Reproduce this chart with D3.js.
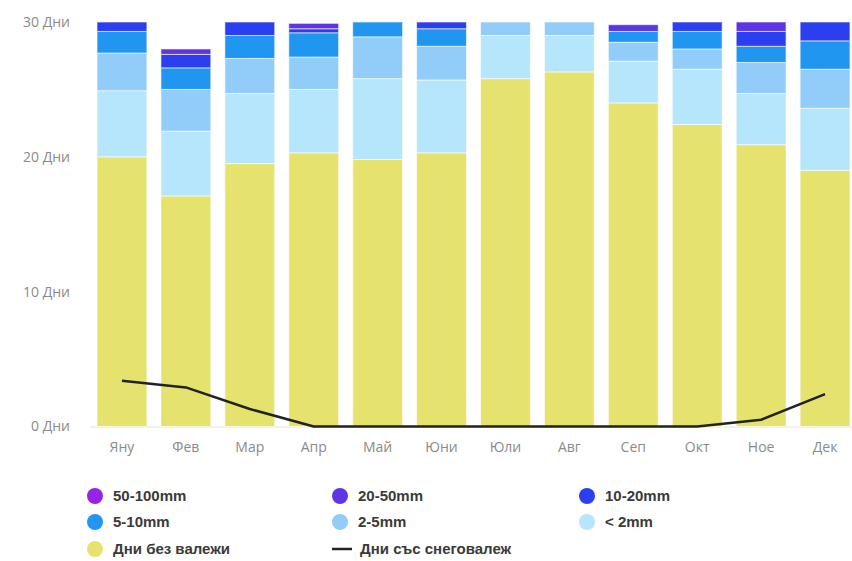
<!DOCTYPE html>
<html>
<head>
<meta charset="utf-8">
<script src="https://cdn.jsdelivr.net/npm/d3@7"></script>
<style>
  body { margin: 0; background: #fff; }
  svg { display: block; }
  .tick text { fill: #8a8a8a; font-family: "Open Sans", "Liberation Sans", sans-serif; font-size: 14px; }
  .legend text { fill: #3a3a3a; font-family: "Liberation Sans", Arial, sans-serif; font-size: 15px; font-weight: bold; }
</style>
</head>
<body>
<svg width="852" height="561"></svg>
<script>
// month labels
const months = ["Яну", "Фев", "Мар", "Апр", "Май", "Юни", "Юли", "Авг", "Сеп", "Окт", "Ное", "Дек"];

// days per precipitation class
const dry      = [20.0, 17.1, 19.5, 20.3, 19.8, 20.3, 25.8, 26.3, 24.0, 22.4, 20.9, 19.0];
const under2   = [4.9, 4.8, 5.2, 4.7, 6.0, 5.4, 3.2, 2.7, 3.1, 4.1, 3.8, 4.6];
const mm2to5   = [2.8, 3.1, 2.6, 2.4, 3.1, 2.5, 1.0, 1.0, 1.4, 1.5, 2.3, 2.9];
const mm5to10  = [1.6, 1.6, 1.7, 1.8, 1.1, 1.3, 0, 0, 0.8, 1.3, 1.2, 2.1];
const mm10to20 = [0.7, 1.0, 1.0, 0.3, 0, 0.5, 0, 0, 0, 0.7, 1.1, 1.4];
const mm20to50 = [0, 0.4, 0, 0.4, 0, 0, 0, 0, 0.5, 0, 0.7, 0];
const mm50to100 = [0, 0, 0, 0, 0, 0, 0, 0, 0, 0, 0, 0];
const snowDays = [3.4, 2.9, 1.3, 0, 0, 0, 0, 0, 0, 0, 0.5, 2.4];

const yTicks = [0, 10, 20, 30];

const series = [
  { key: "dry", label: "Дни без валежи", values: dry, color: "#e6e26e" },
  { key: "under2", label: "< 2mm", values: under2, color: "#b5e6fb" },
  { key: "mm2to5", label: "2-5mm", values: mm2to5, color: "#92ccf8" },
  { key: "mm5to10", label: "5-10mm", values: mm5to10, color: "#2196f0" },
  { key: "mm10to20", label: "10-20mm", values: mm10to20, color: "#2b3ff0" },
  { key: "mm20to50", label: "20-50mm", values: mm20to50, color: "#5e34e6" },
  { key: "mm50to100", label: "50-100mm", values: mm50to100, color: "#9524e4" }
];

const table = months.map((m, i) => {
  const row = { month: m };
  series.forEach(s => row[s.key] = s.values[i]);
  return row;
});

const svg = d3.select("svg");
const margin = { top: 22, right: 0, bottom: 134, left: 90 };
const height = +svg.attr("height") - margin.top - margin.bottom;

const x = d3.scaleBand().domain(months).range([margin.left, 857])
  .paddingInner(0.22).paddingOuter(0.11);
const y = d3.scaleLinear().domain([0, 30]).range([margin.top + height - 0.5, margin.top]);

// baseline
svg.append("line")
  .attr("x1", margin.left).attr("x2", 852)
  .attr("y1", y(0) + 0.5).attr("y2", y(0) + 0.5)
  .attr("stroke", "#e2e2e2");

const stack = d3.stack().keys(series.map(s => s.key));
const layers = stack(table);

svg.append("g").selectAll("g")
  .data(layers)
  .join("g")
    .attr("fill", (d, i) => series[i].color)
  .selectAll("rect")
  .data(d => d.filter(p => p[1] - p[0] > 0))
  .join("rect")
    .attr("x", d => x(d.data.month))
    .attr("width", x.bandwidth())
    .attr("y", d => y(d[1]))
    .attr("height", d => y(d[0]) - y(d[1]))
    .attr("stroke", "#fff")
    .attr("stroke-opacity", 0.6)
    .attr("stroke-width", 1);

// snow line
const line = d3.line()
  .x((d, i) => x(months[i]) + x.bandwidth() / 2)
  .y(d => y(d));

svg.append("path")
  .datum(snowDays)
  .attr("d", line)
  .attr("fill", "none")
  .attr("stroke", "#222")
  .attr("stroke-width", 2.5)
  .attr("stroke-linejoin", "round");

// axes
const yAxis = d3.axisLeft(y).tickValues(yTicks).tickSize(0).tickPadding(20)
  .tickFormat(d => d + " Дни");
svg.append("g")
  .attr("transform", `translate(${margin.left},0)`)
  .call(yAxis)
  .call(g => g.select(".domain").remove());

const xAxis = d3.axisBottom(x).tickSize(0).tickPadding(16);
svg.append("g")
  .attr("transform", `translate(0,${y(0)})`)
  .call(xAxis)
  .call(g => g.select(".domain").remove())
  .selectAll("text").attr("font-size", 15);

// legend
const legendItems = [
  series[6], series[5], series[4],
  series[3], series[2], series[1],
  series[0], { label: "Дни със снеговалеж", line: true }
];
const colX = [95, 340, 587];
const rowY = [496, 522, 549];

const legend = svg.append("g").attr("class", "legend");
legendItems.forEach((item, i) => {
  const cx = colX[i % 3], cy = rowY[Math.floor(i / 3)];
  const g = legend.append("g").attr("transform", `translate(${cx},${cy})`);
  if (item.line) {
    g.append("line").attr("x1", -8).attr("x2", 12).attr("y1", 0).attr("y2", 0)
      .attr("stroke", "#222").attr("stroke-width", 2.5);
    g.append("text").attr("x", 20).attr("dy", "0.35em").text(item.label);
  } else {
    g.append("circle").attr("r", 8).attr("fill", item.color);
    g.append("text").attr("x", 18).attr("dy", "0.35em").text(item.label);
  }
});
</script>
</body>
</html>
